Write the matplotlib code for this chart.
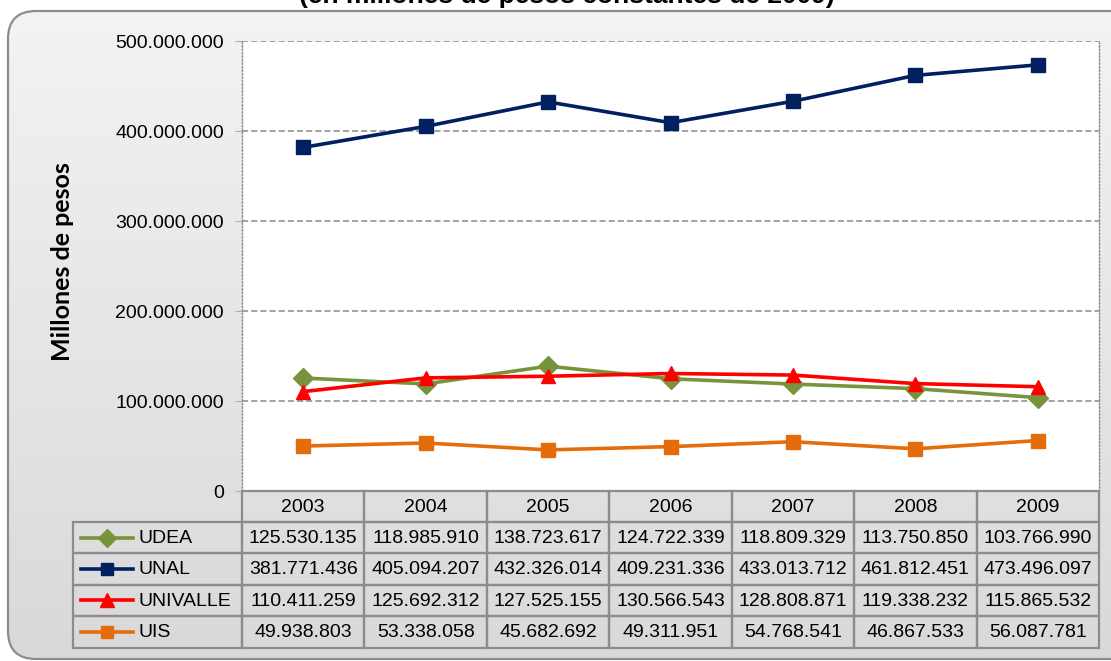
import matplotlib
matplotlib.use("Agg")
import matplotlib.pyplot as plt
import numpy as np
from matplotlib.patches import FancyBboxPatch, Rectangle
from matplotlib.lines import Line2D
from matplotlib.ticker import FuncFormatter
from matplotlib.colors import LinearSegmentedColormap

years = ["2003", "2004", "2005", "2006", "2007", "2008", "2009"]
series_names = ["UDEA", "UNAL", "UNIVALLE", "UIS"]
udea = [125530135, 118985910, 138723617, 124722339, 118809329, 113750850, 103766990]
unal = [381771436, 405094207, 432326014, 409231336, 433013712, 461812451, 473496097]
univalle = [110411259, 125692312, 127525155, 130566543, 128808871, 119338232, 115865532]
uis = [49938803, 53338058, 45682692, 49311951, 54768541, 46867533, 56087781]
yticks = [0, 100000000, 200000000, 300000000, 400000000, 500000000]
title = "(en millones de pesos constantes de 2009)"
ylabel = "Millones de pesos"

colors = ["#77933C", "#002060", "#FF0000", "#E46C0A"]
markers = ["D", "s", "^", "s"]
msizes = [10, 9.5, 10.5, 9.5]
data = [udea, unal, univalle, uis]

W, H = 1111, 661
fig = plt.figure(figsize=(W / 100, H / 100), dpi=100)
fig.patch.set_facecolor("white")

def fmt(v):
    return f"{int(round(v)):,}".replace(",", ".")

# background panel with gradient
bg = fig.add_axes([0, 0, 1, 1], zorder=-5)
bg.set_xlim(0, W)
bg.set_ylim(H, 0)
bg.axis("off")
panel = FancyBboxPatch((8, 11), W + 40, H - 13, boxstyle="round,pad=0,rounding_size=28",
                       facecolor="none", edgecolor="#8c8c8c", linewidth=1.6, zorder=3)
bg.add_patch(panel)
grad = np.linspace(0, 1, 256).reshape(-1, 1)
cmap = LinearSegmentedColormap.from_list("g", ["#f3f3f3", "#d9d9d9"])
im = bg.imshow(grad, cmap=cmap, extent=[8, W + 48, H - 2, 11], aspect="auto", zorder=1)
im.set_clip_path(panel)

# main plot
L, R, T, B = 242, 1099, 41, 491
ax = fig.add_axes([L / W, 1 - B / H, (R - L) / W, (B - T) / H])
ax.set_facecolor("white")
x = np.arange(len(years))
for name, vals, c, m, ms in zip(series_names, data, colors, markers, msizes):
    ax.plot(x, vals, color=c, lw=2.6, marker=m, markersize=ms, markeredgecolor=c,
            markerfacecolor=c, zorder=3)
ax.set_xlim(-0.5, len(years) - 0.5)
ax.set_ylim(0, 500000000)
ax.set_yticks(yticks)
ax.yaxis.set_major_formatter(FuncFormatter(lambda v, p: fmt(v)))
ax.set_xticks([])
for yv in yticks[1:]:
    ax.axhline(yv, color="#8a8a8a", lw=1.1, ls=(0, (4, 2)), zorder=1)
for s in ["left", "right"]:
    ax.spines[s].set_color("#8a8a8a")
    ax.spines[s].set_linestyle((0, (1, 1.5)))
    ax.spines[s].set_linewidth(1.0)
ax.spines["top"].set_visible(False)
ax.spines["bottom"].set_visible(False)
ax.tick_params(axis="y", length=5, color="#b0b0b0", width=0.8, labelsize=14, pad=8)
for lab in ax.get_yticklabels():
    lab.set_fontfamily("Liberation Sans")
ax.set_ylabel(ylabel, fontsize=18, fontweight="bold", family="Lato")
ax.yaxis.set_label_coords((74 - L) / (R - L), 1 - (262 - T) / (B - T))

fig.text(0.51, 1 - 3.5 / H, title, ha="center", va="baseline", fontsize=19,
         fontweight="bold", family="Liberation Sans")

# data table
tb = fig.add_axes([0, 0, 1, 1], zorder=5)
tb.set_xlim(0, W)
tb.set_ylim(H, 0)
tb.axis("off")
tb.patch.set_alpha(0)
colw = (R - L) / len(years)
TL = 73
row_edges = [491, 522, 553, 584.5, 616, 647.5]
gc = "#8c8c8c"
lw = 1.6
fs = 14
# header cells
for i, yr in enumerate(years):
    x0 = L + i * colw
    tb.add_patch(Rectangle((x0, row_edges[0]), colw, row_edges[1] - row_edges[0],
                           fill=False, edgecolor=gc, lw=lw))
    tb.text(x0 + colw / 2, (row_edges[0] + row_edges[1]) / 2 + 1, yr, ha="center",
            va="center", fontsize=fs, family="Liberation Sans")
for r, (name, vals, c, m, ms) in enumerate(zip(series_names, data, colors, markers, msizes)):
    y0, y1 = row_edges[r + 1], row_edges[r + 2]
    yc = (y0 + y1) / 2
    tb.add_patch(Rectangle((TL, y0), L - TL, y1 - y0, fill=False, edgecolor=gc, lw=lw))
    tb.add_line(Line2D([81, 133], [yc, yc], color=c, lw=2.6))
    tb.add_line(Line2D([107], [yc], color=c, marker=m, markersize=ms * 0.95,
                       markeredgecolor=c, markerfacecolor=c))
    tb.text(138, yc + 1, name, ha="left", va="center", fontsize=fs, family="Liberation Sans")
    for i, v in enumerate(vals):
        x0 = L + i * colw
        tb.add_patch(Rectangle((x0, y0), colw, y1 - y0, fill=False, edgecolor=gc, lw=lw))
        tb.text(x0 + colw / 2, yc + 1, fmt(v), ha="center", va="center", fontsize=fs,
                family="Liberation Sans")

fig.savefig("out.png", dpi=100)
